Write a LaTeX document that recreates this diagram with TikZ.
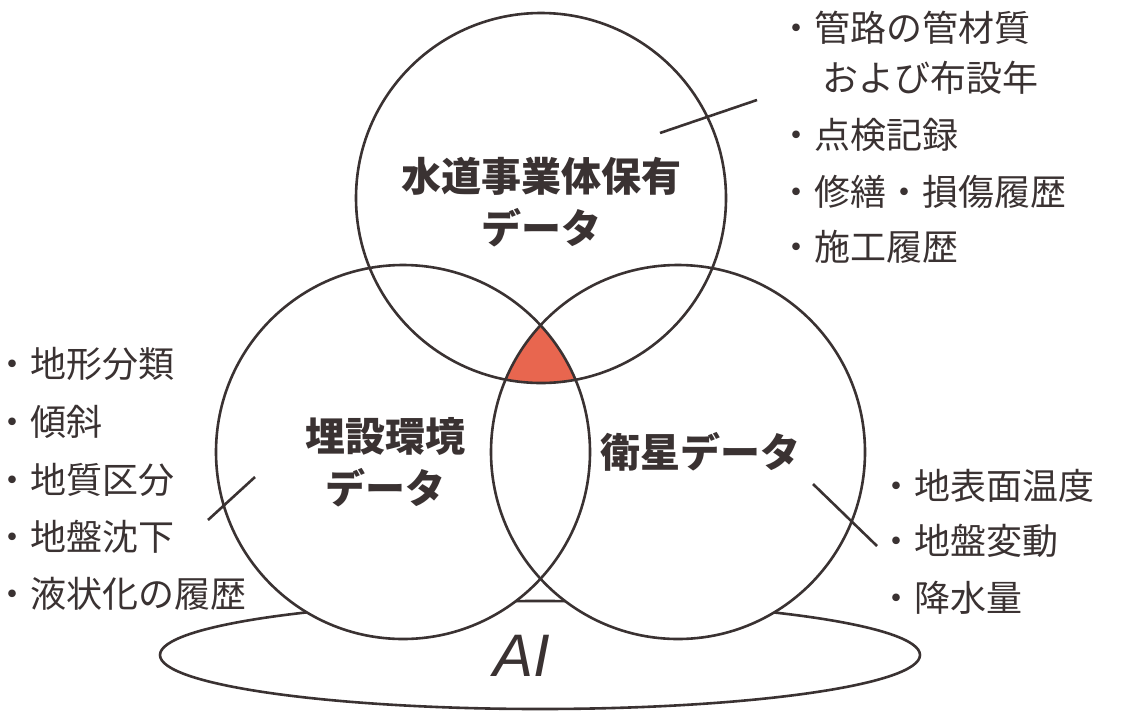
\documentclass[tikz,border=0pt]{standalone}
\usepackage{fontspec}
\setmainfont{Noto Sans CJK JP}
\newfontfamily\aifont{Liberation Sans}
\begin{document}
\begin{tikzpicture}[x=1pt,y=-1pt,
  ln/.style={draw=lc,line width=2.6pt},
  lab/.style={font=\fontsize{40}{52}\selectfont\bfseries,text=lc,align=center},
  itm/.style={font=\fontsize{36}{40}\selectfont,text=lc,anchor=west,inner sep=0pt}]
\definecolor{lc}{HTML}{3A3232}
\definecolor{rd}{HTML}{E8664F}
\useasboundingbox (0,0) rectangle (1128,721);
\fill[white] (0,0) rectangle (1128,721);
\draw[ln] (540,655) ellipse [x radius=380,y radius=54];
\node[font=\fontsize{60}{60}\selectfont\aifont\itshape,text=lc] (ai) at (522,656) {AI};
\fill[white] (541,198) circle (185);
\fill[white] (403,452) circle (187);
\fill[white] (678,452) circle (187);
\begin{scope}
\clip (541,198) circle (185);
\clip (403,452) circle (187);
\fill[rd] (678,452) circle (187);
\end{scope}
\draw[ln] (541,198) circle (185);
\draw[ln] (403,452) circle (187);
\draw[ln] (678,452) circle (187);
\node[lab] (t) at (541,202) {水道事業体保有\\データ};
\node[lab] (l) at (385,462) {埋設環境\\データ};
\node[lab] (r) at (700,452) {衛星データ};
\coordinate (a1) at (660,133); \coordinate (a2) at (757,100);
\coordinate (b1) at (208,520); \coordinate (b2) at (255,477);
\coordinate (c1) at (813,484); \coordinate (c2) at (877,546);
\draw[ln] (a1)--(a2); \draw[ln] (b1)--(b2); \draw[ln] (c1)--(c2);
\node[itm] (p1) at (778,28) {・管路の管材質};
\node[itm] (p2) at (778,78) {　 および布設年};
\node[itm] (p3) at (778,135) {・点検記録};
\node[itm] (p4) at (778,192) {・修繕・損傷履歴};
\node[itm] (p5) at (778,247) {・施工履歴};
\node[itm] (q1) at (-6,364) {・地形分類};
\node[itm] (q2) at (-6,422) {・傾斜};
\node[itm] (q3) at (-6,480) {・地質区分};
\node[itm] (q4) at (-6,537) {・地盤沈下};
\node[itm] (q5) at (-6,594) {・液状化の履歴};
\node[itm] (s1) at (878,486) {・地表面温度};
\node[itm] (s2) at (878,541) {・地盤変動};
\node[itm] (s3) at (878,598) {・降水量};
\end{tikzpicture}
\end{document}
